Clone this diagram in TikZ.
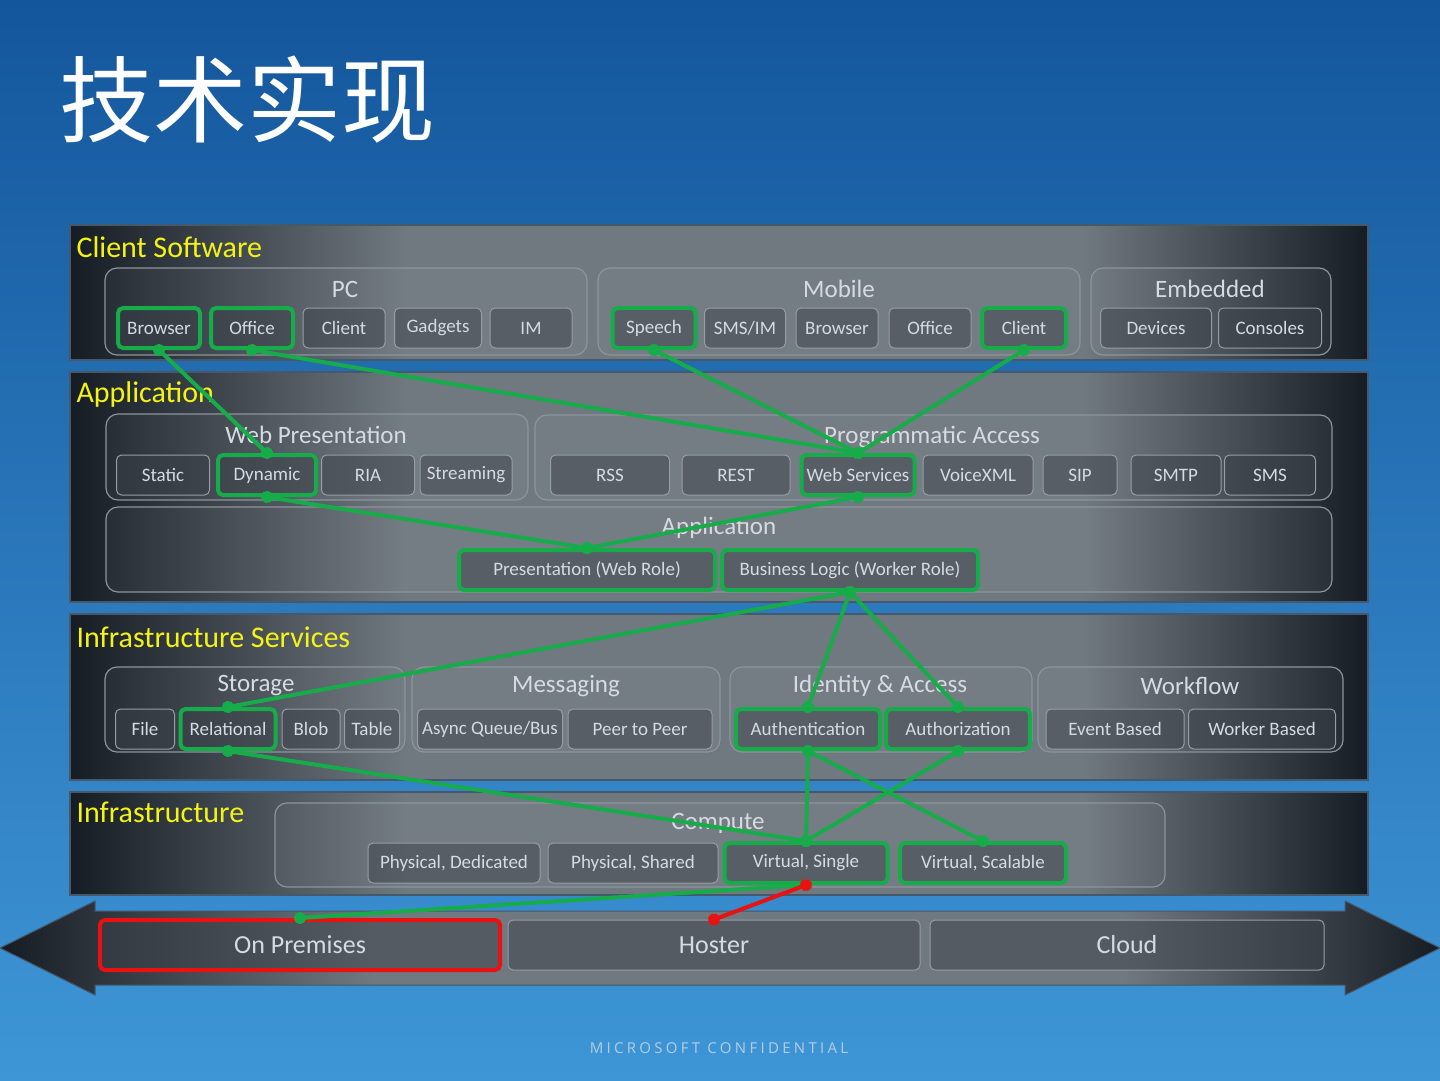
\documentclass[tikz,border=0pt]{standalone}
\usepackage{fontspec}
\setmainfont{Carlito}
\newfontfamily\cjkfont{Noto Sans CJK SC}
\newfontfamily\conffont{Open Sans}[LetterSpace=22]
\usepackage{xcolor}
\usepackage{tikz}
\usetikzlibrary{positioning,arrows.meta,shapes.geometric}
\definecolor{bgtop}{RGB}{20,86,156}
\definecolor{bgbot}{RGB}{62,150,214}
\definecolor{banddark}{RGB}{22,28,36}
\definecolor{bandmid}{RGB}{112,120,128}
\definecolor{bandline}{RGB}{70,88,108}
\definecolor{grpline}{RGB}{140,148,156}
\definecolor{itemline}{RGB}{150,157,164}
\definecolor{itemfill}{RGB}{58,64,72}
\definecolor{itemtext}{RGB}{214,219,224}
\definecolor{hlgreen}{RGB}{22,172,74}
\definecolor{hlred}{RGB}{232,18,18}
\definecolor{layeryellow}{RGB}{244,244,20}
\definecolor{conftext}{RGB}{180,205,228}
\pgfdeclarehorizontalshading{bandshade}{100bp}{color(0bp)=(banddark); color(25bp)=(banddark);
    color(38bp)=(bandmid); color(64bp)=(bandmid); color(75bp)=(banddark); color(100bp)=(banddark)}

\begin{document}
\begin{tikzpicture}[x=1pt,y=-1pt,
    band/.style={draw=bandline,line width=1.5pt,shading=bandshade},
    grp/.style={draw=grpline,line width=1.2pt,rounded corners=12pt,fill=white,fill opacity=0.04},
    grplabel/.style={text=itemtext,font=\fontsize{25}{28}\selectfont},
    layer/.style={anchor=west,text=layeryellow,font=\fontsize{30}{32}\selectfont},
    item/.style={draw=itemline,line width=1pt,fill=itemfill,fill opacity=0.5,text opacity=1,
        rounded corners=5pt,text=itemtext,minimum height=40pt,inner sep=0pt,
        font=\fontsize{19}{21}\selectfont},
    hl/.style={draw=hlgreen,line width=4pt},
    hlr/.style={draw=hlred,line width=4pt},
    link/.style={hlgreen,line width=4pt,{Circle[length=12pt]}-{Circle[length=12pt]},
        shorten <=-6pt,shorten >=-6pt},
    redlink/.style={link,hlred}]

    % Background
    \shade[top color=bgtop,bottom color=bgbot] (0,0) rectangle (1440,1080);
    \useasboundingbox (0,0) rectangle (1440,1080);
    \node[anchor=west,text=white,font=\cjkfont\fontsize{94}{100}\selectfont] (title) at (56,100) {技术实现};

    % Layers
    \draw[band] (70,225) rectangle (1368,360);
    \draw[band] (70,372) rectangle (1368,602);
    \draw[band] (70,614) rectangle (1368,780);
    \draw[band] (70,792) rectangle (1368,895);
    \node[layer] (lclient) at (73,247) {Client Software};
    \node[layer] (lapp) at (73,394) {Application};
    \node[layer] (linfsvc) at (73,637) {Infrastructure Services};
    \node[layer] (linf) at (73,812) {Infrastructure};

    % Groups
    \draw[grp] (105,268) rectangle (587,355);
    \draw[grp] (598,268) rectangle (1080,355);
    \draw[grp] (1091,268) rectangle (1331,355);
    \draw[grp] (106,414) rectangle (528,500);
    \draw[grp] (535,415) rectangle (1332,500);
    \draw[grp] (106,507) rectangle (1332,592);
    \draw[grp] (105,667) rectangle (405,752);
    \draw[grp] (412,667) rectangle (720,752);
    \draw[grp] (730,667) rectangle (1032,752);
    \draw[grp] (1038,667) rectangle (1343,752);
    \draw[grp] (275,803) rectangle (1165,887);
    \node[grplabel] (gpc) at (345,289) {PC};
    \node[grplabel] (gmob) at (839,289) {Mobile};
    \node[grplabel] (gemb) at (1210,289) {Embedded};
    \node[grplabel] (gweb) at (316,435) {Web Presentation};
    \node[grplabel] (gprog) at (932,437) {Programmatic Access};
    \node[grplabel] (gapp) at (719,528) {Application};
    \node[grplabel] (gsto) at (256,686) {Storage};
    \node[grplabel] (gmsg) at (566,686) {Messaging};
    \node[grplabel] (gida) at (880,686) {Identity \& Access};
    \node[grplabel] (gwf) at (1190,686) {Workflow};
    \node[grplabel] (gcomp) at (718,823) {Compute};

    % Client software
    \node[item,hl,minimum width=82] (pcbrw) at (159,328) {Browser};
    \node[item,hl,minimum width=82] (pcoff) at (252,328) {Office};
    \node[item,minimum width=82] (pccli) at (344,328) {Client};
    \node[item,minimum width=87] (pcgad) at (438,328) {Gadgets};
    \node[item,minimum width=82] (pcim) at (531,328) {IM};
    \node[item,hl,minimum width=83] (mspeech) at (654,328) {Speech};
    \node[item,minimum width=81] (msms) at (745,328) {SMS/IM};
    \node[item,minimum width=82] (mbrw) at (837,328) {Browser};
    \node[item,minimum width=82] (moff) at (930,328) {Office};
    \node[item,hl,minimum width=84] (mcli) at (1024,328) {Client};
    \node[item,minimum width=111] (edev) at (1156,328) {Devices};
    \node[item,minimum width=103] (econ) at (1270,328) {Consoles};

    % Application
    \node[item,minimum width=93] (wstat) at (163,475) {Static};
    \node[item,hl,minimum width=98] (wdyn) at (267,475) {Dynamic};
    \node[item,minimum width=93] (wria) at (368,475) {RIA};
    \node[item,minimum width=92] (wstr) at (466,475) {Streaming};
    \node[item,minimum width=119] (prss) at (610,475) {RSS};
    \node[item,minimum width=108] (prest) at (736,475) {REST};
    \node[item,hl,minimum width=113] (pws) at (858,475) {Web Services};
    \node[item,minimum width=110] (pvxml) at (978,475) {VoiceXML};
    \node[item,minimum width=74] (psip) at (1080,475) {SIP};
    \node[item,minimum width=90] (psmtp) at (1176,475) {SMTP};
    \node[item,minimum width=91] (psms) at (1270,475) {SMS};
    \node[item,hl,minimum width=256] (apres) at (587,570) {Presentation (Web Role)};
    \node[item,hl,minimum width=256] (abiz) at (850,570) {Business Logic (Worker Role)};

    % Infrastructure services
    \node[item,minimum width=59] (sfile) at (145,729) {File};
    \node[item,hl,minimum width=95] (srel) at (228,729) {Relational};
    \node[item,minimum width=58] (sblob) at (311,729) {Blob};
    \node[item,minimum width=55] (stab) at (372,729) {Table};
    \node[item,minimum width=145] (masync) at (490,729) {Async Queue/Bus};
    \node[item,minimum width=144] (mp2p) at (640,729) {Peer to Peer};
    \node[item,hl,minimum width=144] (iauthn) at (808,729) {Authentication};
    \node[item,hl,minimum width=144] (iauthz) at (958,729) {Authorization};
    \node[item,minimum width=138] (wfevt) at (1115,729) {Event Based};
    \node[item,minimum width=147] (wfwrk) at (1262,729) {Worker Based};

    % Infrastructure
    \node[item,minimum width=172] (cpd) at (454,863) {Physical, Dedicated};
    \node[item,minimum width=170] (cps) at (633,863) {Physical, Shared};
    \node[item,hl,minimum width=163] (cvsing) at (806,863) {Virtual, Single};
    \node[item,hl,minimum width=166] (cvscal) at (983,863) {Virtual, Scalable};

    % Hosting arrow
    \shade[shading=bandshade,draw=bandline,line width=1pt]
        (0,948) -- (95,901) -- (95,911) -- (1345,911) -- (1345,901) -- (1440,948)
        -- (1345,995) -- (1345,985) -- (95,985) -- (95,995) -- cycle;
    \node[item,hlr,minimum width=400,minimum height=50,font=\fontsize{26}{28}\selectfont] (onprem) at (300,945) {On Premises};
    \node[item,minimum width=412,minimum height=50,font=\fontsize{26}{28}\selectfont] (hoster) at (714,945) {Hoster};
    \node[item,minimum width=394,minimum height=50,font=\fontsize{26}{28}\selectfont] (cloud) at (1127,945) {Cloud};

    % Links
    \draw[link] (pcbrw.south) -- (wdyn.north);
    \draw[link] (pcoff.south) -- (pws.north);
    \draw[link] (mspeech.south) -- (pws.north);
    \draw[link] (mcli.south) -- (pws.north);
    \draw[link] (wdyn.south) -- (apres.north);
    \draw[link] (pws.south) -- (apres.north);
    \draw[link] (abiz.south) -- (srel.north);
    \draw[link] (abiz.south) -- (iauthn.north);
    \draw[link] (abiz.south) -- (iauthz.north);
    \draw[link] (srel.south) -- (cvsing.north);
    \draw[link] (iauthn.south) -- (cvsing.north);
    \draw[link] (iauthn.south) -- (cvscal.north);
    \draw[link] (iauthz.south) -- (cvsing.north);
    \draw[link] (cvsing.south) -- (onprem.north);
    \draw[redlink] (cvsing.south) -- (hoster.north);

    \node[text=conftext,font=\conffont\fontsize{15}{17}\selectfont] (conf) at (719,1048) {MICROSOFT CONFIDENTIAL};
\end{tikzpicture}
\end{document}
